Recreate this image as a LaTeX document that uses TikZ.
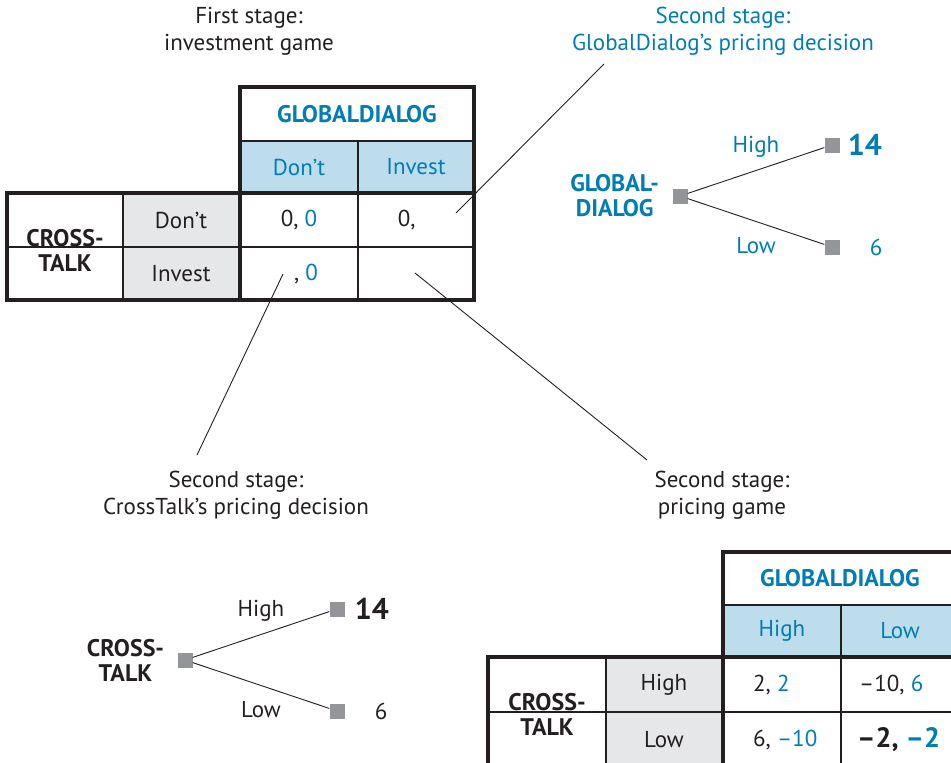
\documentclass[tikz,border=0pt]{standalone}
\usepackage{fontspec}
\setmainfont{PT Sans}
\usetikzlibrary{positioning}
\definecolor{gdblue}{RGB}{0,125,180}
\definecolor{gdfill}{RGB}{190,221,236}
\definecolor{rowgray}{RGB}{230,231,232}
\definecolor{sqgray}{RGB}{147,149,152}
\definecolor{ink}{RGB}{35,31,32}
\begin{document}
\begin{tikzpicture}[x=1pt, y=-1pt,
  txt/.style={font=\fontsize{23}{27}\selectfont, text=ink, align=center, inner sep=0},
  hd/.style={font=\fontsize{24}{25}\selectfont\bfseries, text=ink, align=center, inner sep=0},
  blu/.style={text=gdblue},
  big/.style={font=\fontsize{30}{32}\selectfont\bfseries, inner sep=0},
  sq/.style={fill=sqgray, minimum size=15, inner sep=0},
  thin/.style={line width=1.1pt, draw=ink},
  thick/.style={line width=3.6pt, draw=ink},
  lead/.style={line width=0.9pt, draw=ink}]
\useasboundingbox (0,0) rectangle (951,763);

% first stage: investment game
\node[txt] (cap1) at (249,31) {First stage:\\investment game};
\fill[gdfill] (240,141) rectangle (474,193);
\fill[rowgray] (123,193) rectangle (240,300);
\draw[thin] (240,141) -- (474,141) (358,141) -- (358,300)
  (7,247) -- (474,247) (123,193) -- (123,300);
\draw[thick] (240,87) rectangle (474,300) (7,193) rectangle (474,300);
\node[hd, blu] (g1) at (357,114) {GLOBALDIALOG};
\node[txt, blu] (g1a) at (299,167) {Don’t};
\node[txt, blu] (g1b) at (416,167) {Invest};
\node[hd] (c1) at (65,250) {CROSS-\\TALK};
\node[txt] (c1a) at (181,220) {Don’t};
\node[txt] (c1b) at (181,274) {Invest};
\node[txt] (p11) at (299,220) {0, \textcolor{gdblue}{0}};
\node[txt] (p12) at (416,220) {0, \phantom{0}};
\node[txt] (p21) at (306,274) {, \textcolor{gdblue}{0}};
\coordinate (t12) at (456,213);
\coordinate (t21) at (283,274);
\coordinate (t22) at (415,273);

% second stage: GlobalDialog decides
\node[txt, blu] (cap2) at (723,31) {Second stage:\\GlobalDialog’s pricing decision};
\node[sq] (gdroot) at (680,196) {};
\node[sq] (gdhi) at (832,145) {};
\node[sq] (gdlo) at (832,247) {};
\node[hd, blu, left=13pt of gdroot] (gdname) {GLOBAL-\\DIALOG};
\draw[lead] (gdroot) -- node[txt, blu, yshift=24pt] (gdh) {High} (gdhi);
\draw[lead] (gdroot) -- node[txt, blu, yshift=-24pt] (gdl) {Low} (gdlo);
\node[big, text=gdblue, right=8pt of gdhi] (gdv1) {14};
\node[txt, blu, right=30pt of gdlo] (gdv2) {6};
\draw[lead] (t12) -- (604,64);

% second stage: CrossTalk decides
\node[txt] (cap3) at (236,495) {Second stage:\\CrossTalk’s pricing decision};
\node[sq] (ctroot) at (185,660) {};
\node[sq] (cthi) at (337,609) {};
\node[sq] (ctlo) at (337,711) {};
\node[hd, left=13pt of ctroot] (ctname) {CROSS-\\TALK};
\draw[lead] (ctroot) -- node[txt, yshift=24pt] (cth) {High} (cthi);
\draw[lead] (ctroot) -- node[txt, yshift=-24pt] (ctl) {Low} (ctlo);
\node[big, text=ink, right=10pt of cthi] (ctv1) {14};
\node[txt, right=30pt of ctlo] (ctv2) {6};
\draw[lead] (t21) -- (197,455);

% second stage: pricing game
\node[txt] (cap4) at (722,495) {Second stage:\\pricing game};
\draw[lead] (t22) -- (647,460);
\fill[gdfill] (723,605) rectangle (959,657);
\fill[rowgray] (606,657) rectangle (723,767);
\draw[thin] (723,605) -- (959,605) (841,605) -- (841,767)
  (488,712) -- (959,712) (606,657) -- (606,767);
\draw[thick] (723,552) rectangle (959,767) (488,657) rectangle (959,767);
\node[hd, blu] (g2) at (840,578) {GLOBALDIALOG};
\node[txt, blu] (g2a) at (782,631) {High};
\node[txt, blu] (g2b) at (900,631) {Low};
\node[hd] (c2) at (547,714) {CROSS-\\TALK};
\node[txt] (c2a) at (664,685) {High};
\node[txt] (c2b) at (664,740) {Low};
\node[txt, anchor=west] (q11) at (753,685) {2, \textcolor{gdblue}{2}};
\node[txt, anchor=west] (q12) at (859,685) {–10, \textcolor{gdblue}{6}};
\node[txt, anchor=west] (q21) at (753,740) {6, \textcolor{gdblue}{–10}};
\node[big, font=\fontsize{28}{30}\selectfont\bfseries, text=ink, anchor=west] (q22) at (857,740) {–2, \textcolor{gdblue}{–2}};
\end{tikzpicture}
\end{document}
